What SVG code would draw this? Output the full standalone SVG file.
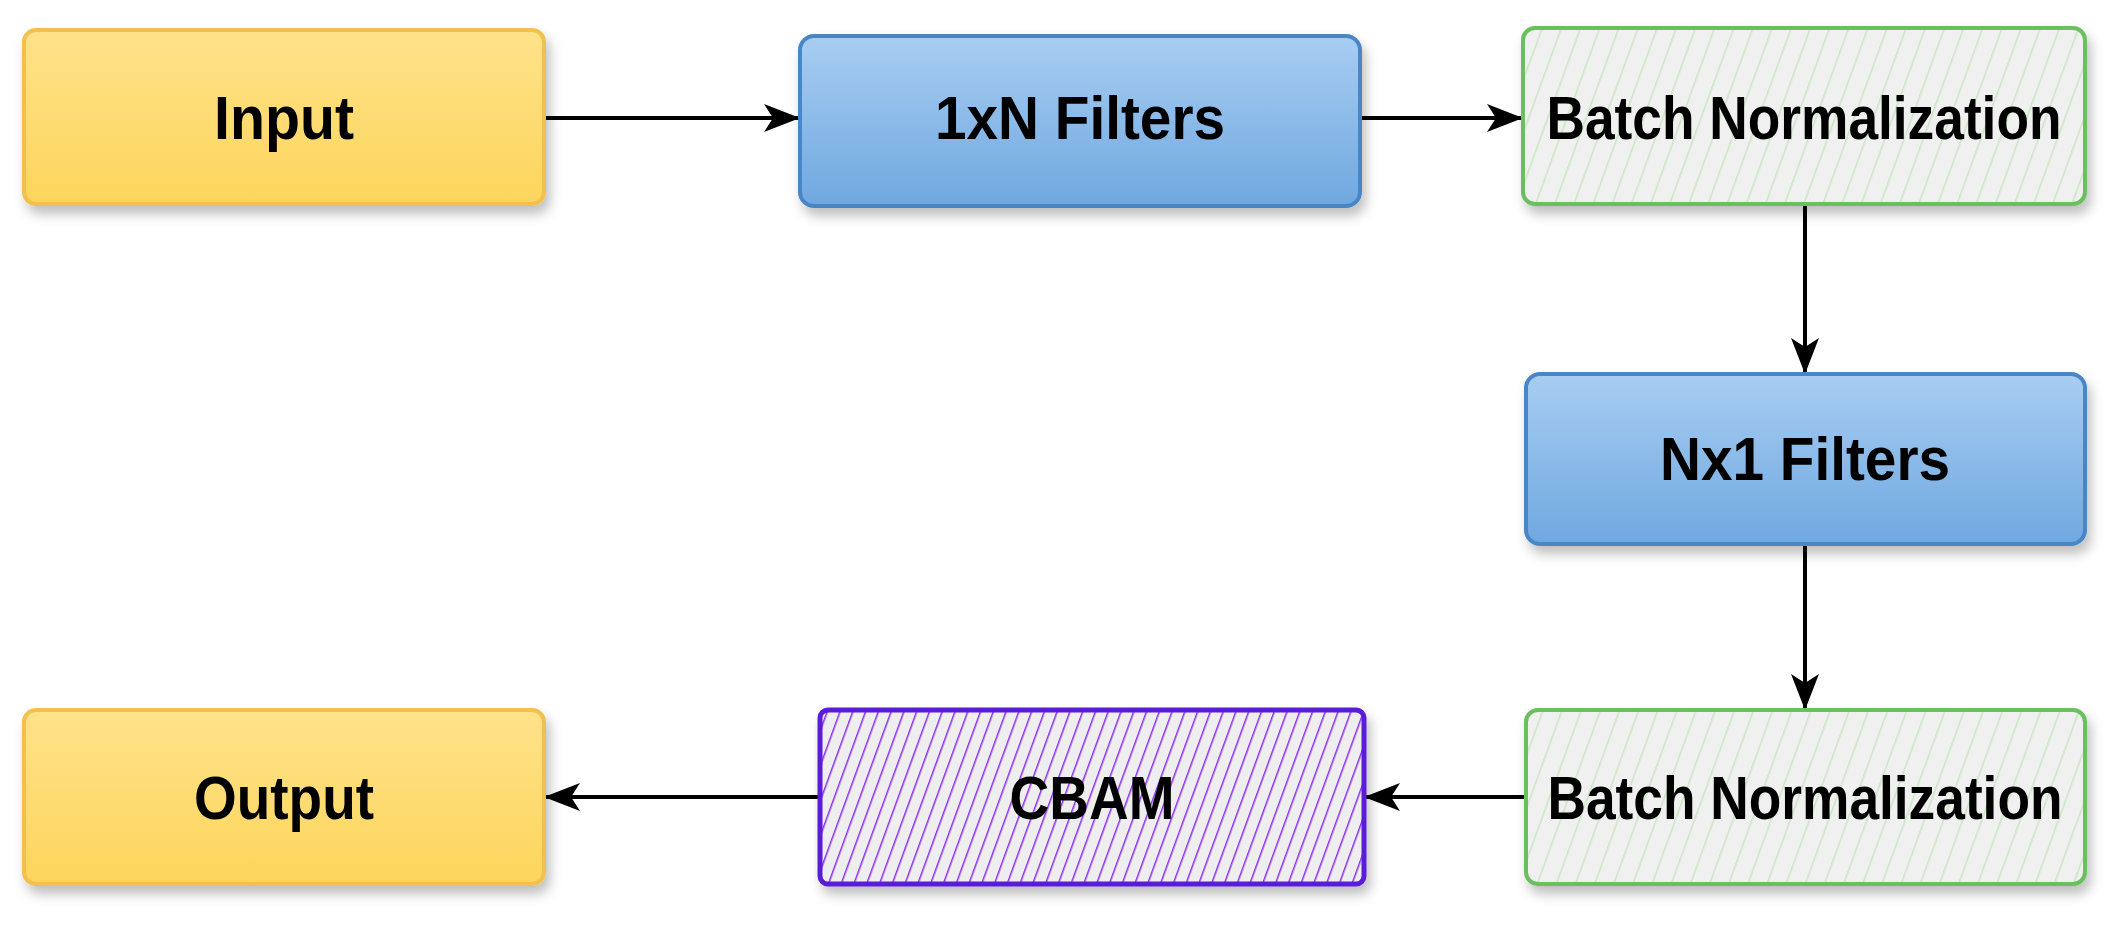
<svg xmlns="http://www.w3.org/2000/svg" width="2122" height="931" viewBox="0 0 2122 931">
<style>
text{font-family:"Liberation Sans",Arial,sans-serif;font-weight:bold;font-size:62px;fill:#000;text-anchor:middle;dominant-baseline:central}
.y{fill:url(#gy);stroke:#f2c14e;stroke-width:4}
.b{fill:url(#gb);stroke:#4a86c5;stroke-width:4}
.g{fill:url(#hg);stroke:#6abf5e;stroke-width:4}
.p{fill:url(#hp);stroke:#5a1fd6;stroke-width:5}
.c{stroke:#000;stroke-width:4;fill:none;marker-end:url(#ah)}
</style>
<defs>
<marker id="ah" markerWidth="36" markerHeight="36" refX="34" refY="18" orient="auto" markerUnits="userSpaceOnUse" viewBox="0 0 36 36"><path d="M0,4 L36,18 L0,32 L9,18 z" fill="#000"/></marker>
<linearGradient id="gy" x1="0" y1="0" x2="0" y2="1"><stop offset="0" stop-color="#ffe38a"/><stop offset="1" stop-color="#fdd55c"/></linearGradient>
<linearGradient id="gb" x1="0" y1="0" x2="0" y2="1"><stop offset="0" stop-color="#a8cdf2"/><stop offset="1" stop-color="#6fa8e0"/></linearGradient>
<pattern id="hg" width="18" height="18" patternUnits="userSpaceOnUse" patternTransform="rotate(20)"><rect width="18" height="18" fill="#f0f0f0"/><line x1="0" y1="0" x2="0" y2="18" stroke="#c7e6c0" stroke-width="3"/></pattern>
<pattern id="hp" width="12" height="12" patternUnits="userSpaceOnUse" patternTransform="rotate(20)"><rect width="12" height="12" fill="#eeeeee"/><line x1="0" y1="0" x2="0" y2="12" stroke="#8b2cf0" stroke-width="3"/></pattern>
<filter id="sh" x="-10%" y="-10%" width="130%" height="140%"><feDropShadow dx="4" dy="8" stdDeviation="6" flood-opacity="0.25"/></filter>
</defs>
<g id="connectors">
<line class="c" x1="546" y1="118" x2="798" y2="118"/>
<line class="c" x1="1362" y1="118" x2="1521" y2="118"/>
<line class="c" x1="1805" y1="206" x2="1805" y2="372"/>
<line class="c" x1="1805" y1="546" x2="1805" y2="708"/>
<line class="c" x1="1524" y1="797" x2="1366" y2="797"/>
<line class="c" x1="821" y1="797" x2="546" y2="797"/>
</g>
<g id="input"><rect class="y" x="24" y="30" width="520" height="174" rx="12" filter="url(#sh)"/><text x="284" y="117" textLength="140" lengthAdjust="spacingAndGlyphs">Input</text></g>
<g id="filters1xN"><rect class="b" x="800" y="36" width="560" height="170" rx="14" filter="url(#sh)"/><text x="1080" y="117" textLength="290" lengthAdjust="spacingAndGlyphs">1xN Filters</text></g>
<g id="bn1"><rect class="g" x="1523" y="28" width="562" height="176" rx="12" filter="url(#sh)"/><text x="1804" y="117" textLength="515" lengthAdjust="spacingAndGlyphs">Batch Normalization</text></g>
<g id="filtersNx1"><rect class="b" x="1526" y="374" width="559" height="170" rx="14" filter="url(#sh)"/><text x="1805" y="458" textLength="290" lengthAdjust="spacingAndGlyphs">Nx1 Filters</text></g>
<g id="bn2"><rect class="g" x="1526" y="710" width="559" height="174" rx="12" filter="url(#sh)"/><text x="1805" y="797" textLength="515" lengthAdjust="spacingAndGlyphs">Batch Normalization</text></g>
<g id="cbam"><rect class="p" x="820" y="710" width="544" height="174" rx="8" filter="url(#sh)"/><text x="1092" y="797" textLength="165" lengthAdjust="spacingAndGlyphs">CBAM</text></g>
<g id="output"><rect class="y" x="24" y="710" width="520" height="174" rx="12" filter="url(#sh)"/><text x="284" y="797" textLength="180" lengthAdjust="spacingAndGlyphs">Output</text></g>
</svg>
